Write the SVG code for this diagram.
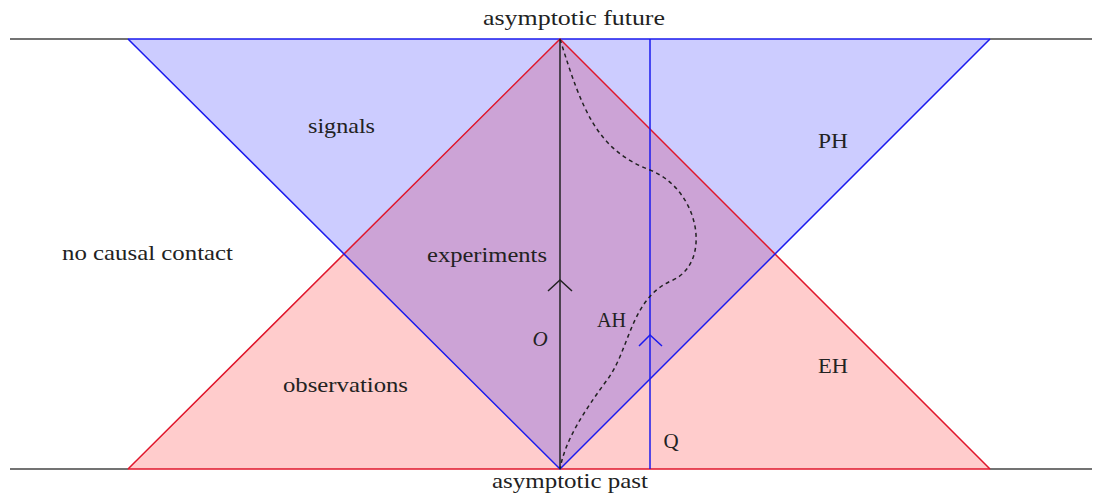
<svg xmlns="http://www.w3.org/2000/svg" width="1101" height="493" viewBox="0 0 1101 493">
<style>
.lbl{font-family:"Liberation Serif","Times New Roman",serif;font-size:21px;fill:#222}
.red{stroke:#e0162b;stroke-width:1.5;fill:none}
.blue{stroke:#1a1aee;stroke-width:1.5;fill:none}
.blk{stroke:#222;stroke-width:1.5;fill:none}
.gray{stroke:#444;stroke-width:1.5;fill:none}
</style>
<rect width="1101" height="493" fill="#fff"/>
<g id="regions">
<polygon id="red-cone" points="128,469 990,469 560,39" fill="#ff0000" fill-opacity="0.2"/>
<polygon id="blue-cone" points="128,39 990,39 560,469" fill="#0000ff" fill-opacity="0.2"/>
</g>
<g id="connectors">
<line class="gray" x1="10" y1="39" x2="128" y2="39"/>
<line class="gray" x1="990" y1="39" x2="1092" y2="39"/>
<line class="gray" x1="10" y1="469" x2="128" y2="469"/>
<line class="gray" x1="990" y1="469" x2="1092" y2="469"/>
<line class="blue" x1="128" y1="39" x2="990" y2="39"/>
<line class="red" x1="128" y1="469" x2="990" y2="469"/>
<polyline class="red" points="128,469 560,39 990,469"/>
<polyline class="blue" points="128,39 560,469 990,39"/>
<line class="blk" x1="560" y1="39" x2="560" y2="469"/>
<polyline class="blk" points="548,291 560,280 572,291"/>
<line class="blue" x1="650" y1="39" x2="650" y2="469"/>
<polyline class="blue" points="639,346 650,335 662,346"/>
<path class="blk" stroke-dasharray="4,3.5" d="M560,39 C582,110 597,150 650,170 C700,190 712,262 673,280 C630,298 630,350 607,380 C585,410 565,440 560,469"/>
</g>
<g id="labels" class="lbl">
<text class="lbl" x="574" y="25" text-anchor="middle" textLength="182" lengthAdjust="spacingAndGlyphs">asymptotic future</text>
<text class="lbl" x="570" y="488" text-anchor="middle" textLength="156" lengthAdjust="spacingAndGlyphs">asymptotic past</text>
<text class="lbl" x="62" y="260" textLength="171" lengthAdjust="spacingAndGlyphs">no causal contact</text>
<text class="lbl" x="283" y="392" textLength="125" lengthAdjust="spacingAndGlyphs">observations</text>
<text class="lbl" x="308" y="133" textLength="67" lengthAdjust="spacingAndGlyphs">signals</text>
<text class="lbl" x="427" y="262" textLength="120" lengthAdjust="spacingAndGlyphs">experiments</text>
<text class="lbl" x="818" y="148" textLength="30" lengthAdjust="spacingAndGlyphs">PH</text>
<text class="lbl" x="818" y="373" textLength="30" lengthAdjust="spacingAndGlyphs">EH</text>
<text class="lbl" x="597" y="327" textLength="29" lengthAdjust="spacingAndGlyphs">AH</text>
<text class="lbl" x="540" y="346" text-anchor="middle" font-style="italic">O</text>
<text class="lbl" x="671" y="448" text-anchor="middle">Q</text>
</g>
</svg>
